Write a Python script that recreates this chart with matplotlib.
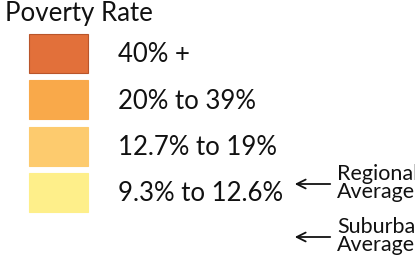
import matplotlib
matplotlib.use("Agg")
import matplotlib.pyplot as plt
from matplotlib.patches import Rectangle

# --------------------------------------------------
# Legend data
# --------------------------------------------------
title = "Poverty Rate"
labels = ["40% +", "20% to 39%", "12.7% to 19%", "9.3% to 12.6%"]
colors = ["#E2703A", "#F9A94A", "#FDCB6E", "#FEEF8A"]
edge_colors = ["#B9552A", "#F9A94A", "#FDCB6E", "#FEEF8A"]
notes = ["Regional\nAverage", "Suburban\nAverage"]

plt.rcParams["font.family"] = ["Lato", "DejaVu Sans"]

fig = plt.figure(figsize=(4.15, 2.63), dpi=100)
ax = fig.add_axes([0, 0, 1, 1])
ax.set_xlim(0, 415)
ax.set_ylim(263, 0)
ax.axis("off")

ax.text(5, 14, title, fontsize=18.6, va="center", ha="left", color="#111111")

# colour boxes with their labels
for i, (lab, col, ec) in enumerate(zip(labels, colors, edge_colors)):
    top = 34 + i * 46.3
    ax.add_patch(Rectangle((29, top), 59, 39, facecolor=col, edgecolor=ec, lw=0.8))
    ax.text(118, top + 21, lab, fontsize=18.5, va="center", ha="left", color="#111111")

# arrows pointing to the average markers
for j, note in enumerate(notes):
    y = 184 + j * 53
    ax.annotate("", xy=(292, y), xytext=(333, y),
                arrowprops=dict(arrowstyle="->", lw=1.3, color="#111111",
                                mutation_scale=16))
    ax.text(337, y - 1, note, fontsize=15.5, va="center", ha="left",
            linespacing=0.92, color="#111111")

fig.savefig("out.png", dpi=100)
